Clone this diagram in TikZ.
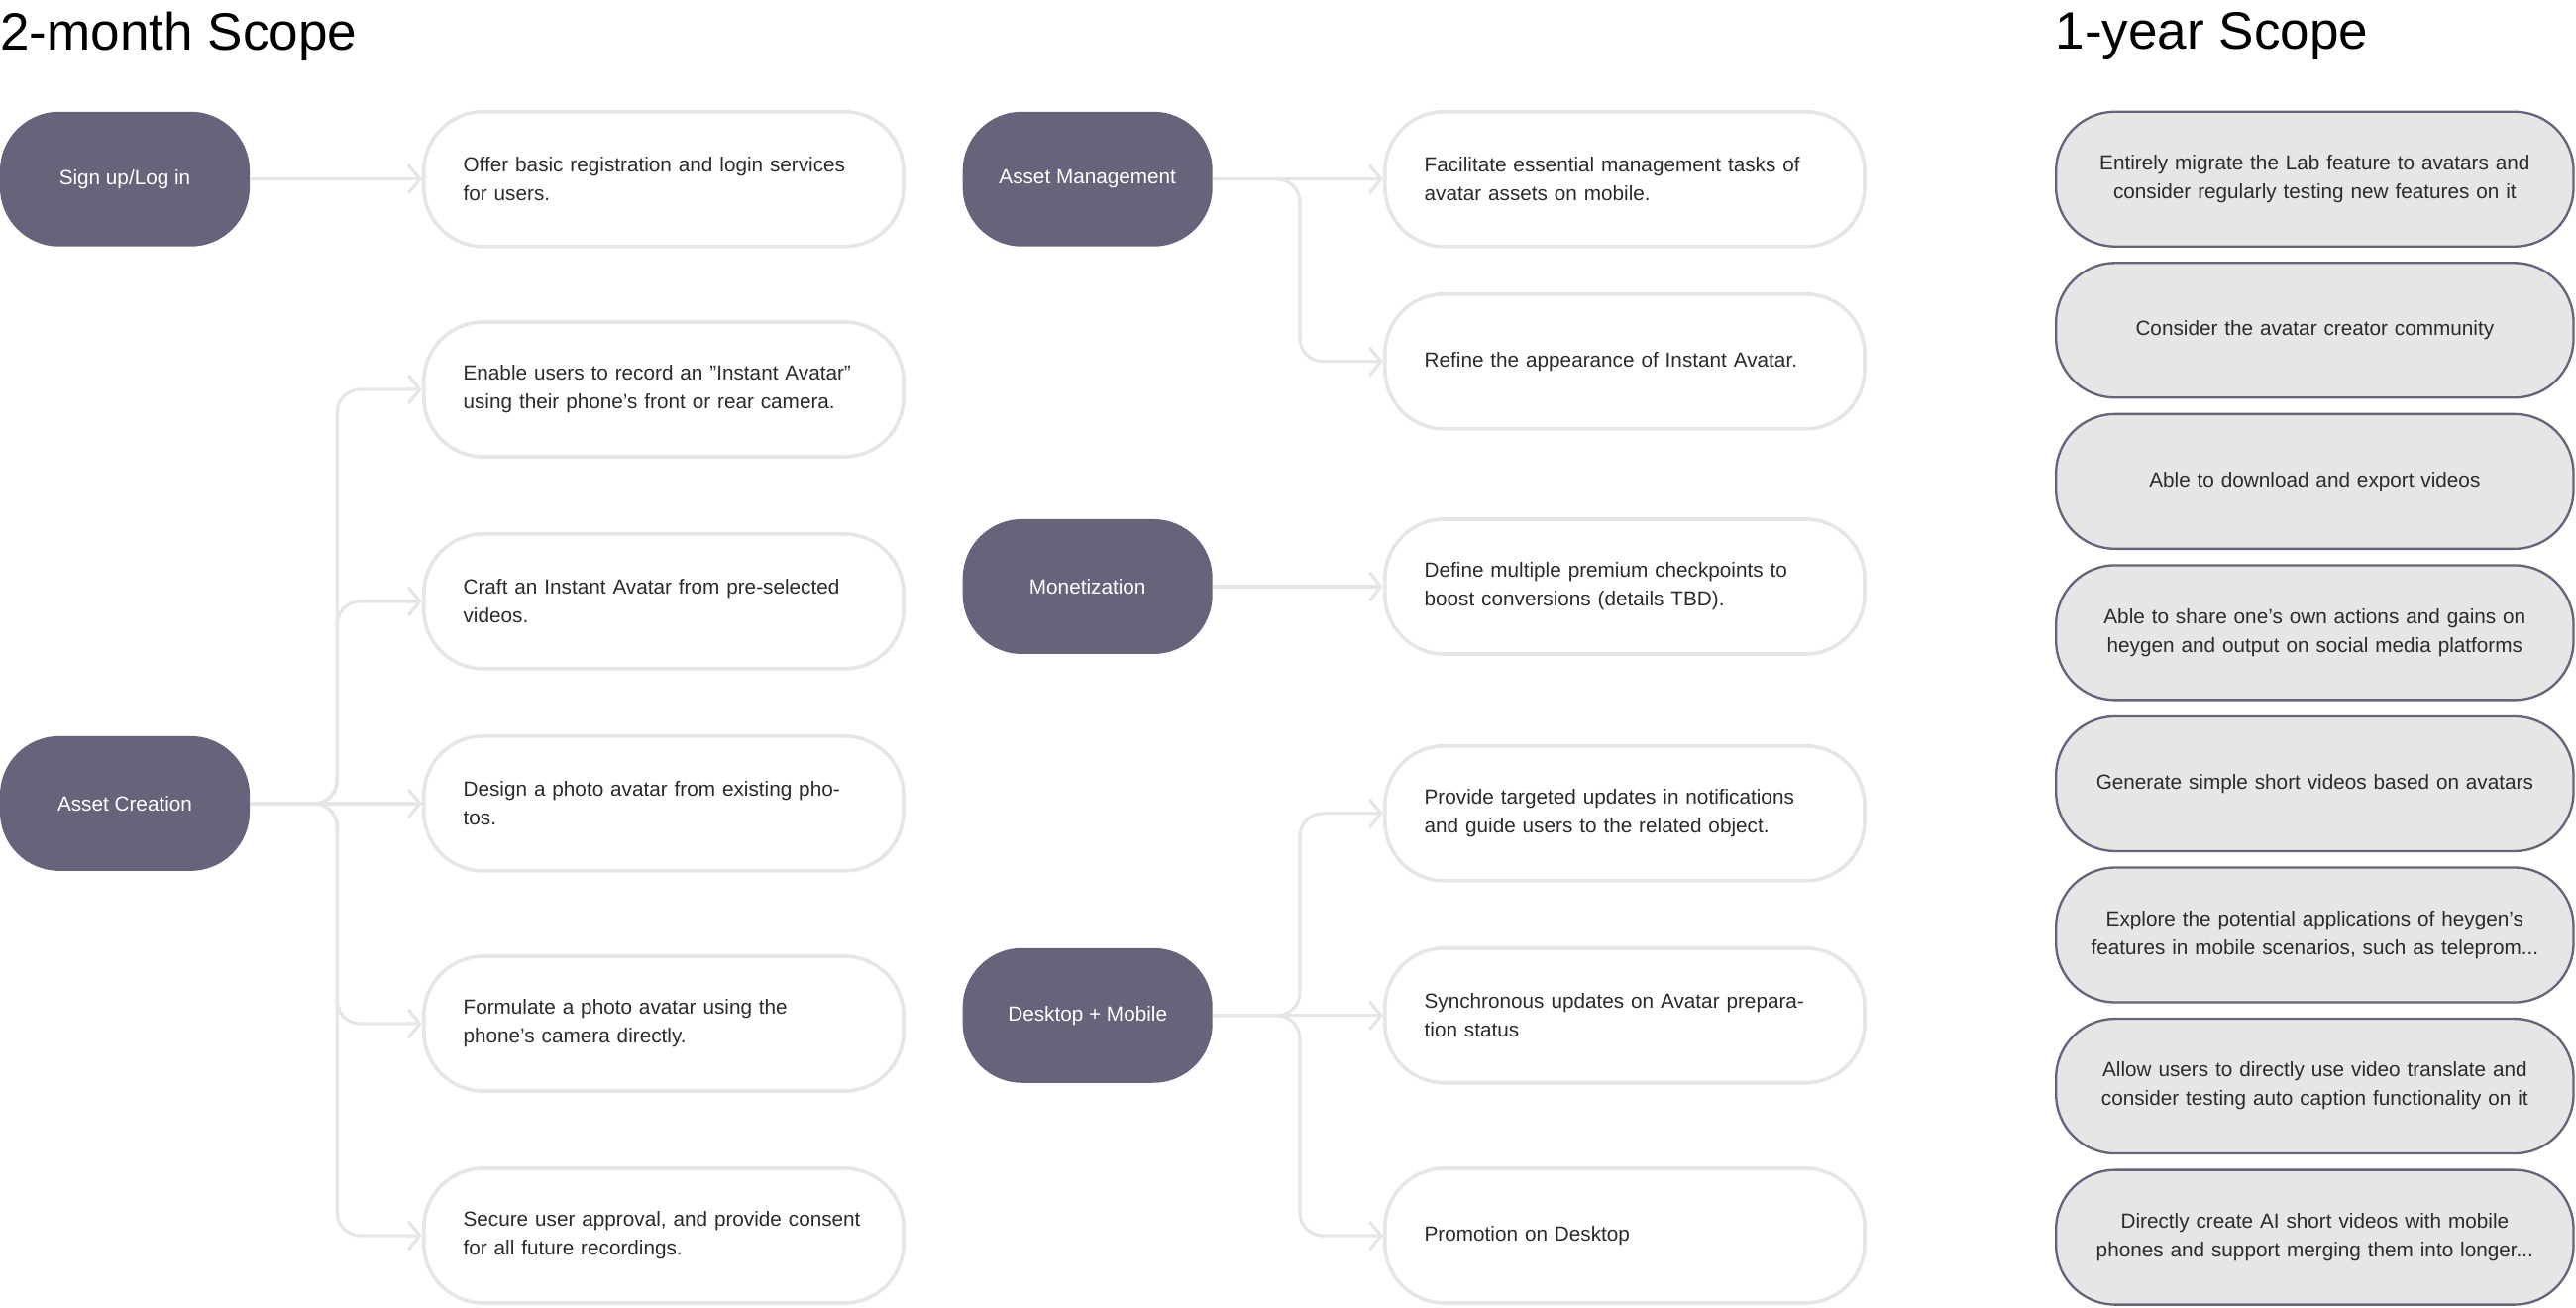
\documentclass[tikz,border=0pt]{standalone}
\usepackage{fontspec}
\setmainfont{Liberation Sans}
\usetikzlibrary{arrows.meta}
\definecolor{dark}{HTML}{67637B}
\definecolor{edge}{HTML}{E6E6E6}
\definecolor{txt}{HTML}{2B2B2B}
\definecolor{gfill}{HTML}{E6E6E6}
\begin{document}
\begin{tikzpicture}[x=1pt,y=-1pt,
  dk/.style={fill=dark,draw=none,rounded corners=36pt,minimum width=152pt,minimum height=82pt,text=white,font=\fontsize{12.5}{16}\selectfont,inner sep=0pt},
  wb/.style={draw=edge,line width=2.2pt,fill=white,rounded corners=36pt,minimum width=292pt,minimum height=82pt,text width=244pt,inner xsep=24pt,align=left,text=txt,font=\fontsize{12.5}{17.5}\selectfont},
  gb/.style={draw=dark,line width=1.4pt,fill=gfill,rounded corners=36pt,minimum width=315pt,minimum height=82pt,text width=290pt,align=center,text=txt,font=\fontsize{12.5}{17.5}\selectfont},
  conn/.style={draw=edge,line width=2pt,rounded corners=14pt,-{Straight Barb[length=7pt,width=17pt,line width=2pt]}},
  ttl/.style={anchor=west,font=\fontsize{32}{36}\selectfont,text=black,inner sep=0pt}]
\useasboundingbox (0,0) rectangle (1568,796);
\node[ttl] (t1) at (0,22) {2-month Scope};
\node[ttl] (t2) at (1251,22) {1-year Scope};
% left column
\node[dk] (su) at (76,109) {Sign up/Log in};
\node[dk] (ac) at (76,489) {Asset Creation};
\node[wb] (b1) at (404,109) {Offer basic registration and login services for users.};
\node[wb] (b2) at (404,237) {Enable users to record an "Instant Avatar" using their phone's front or rear camera.};
\node[wb] (b3) at (404,366) {Craft an Instant Avatar from pre-selected videos.};
\node[wb] (b4) at (404,489) {Design a photo avatar from existing photos.};
\node[wb] (b5) at (404,623) {Formulate a photo avatar using the phone's camera directly.};
\node[wb] (b6) at (404,752) {Secure user approval, and provide consent for all future recordings.};
% middle column
\node[dk] (am) at (662,109) {Asset Management};
\node[dk] (mo) at (662,357) {Monetization};
\node[dk] (dm) at (662,618) {Desktop + Mobile};
\node[wb] (m1) at (989,109) {Facilitate essential management tasks of avatar assets on mobile.};
\node[wb] (m2) at (989,220) {Refine the appearance of Instant Avatar.};
\node[wb] (m3) at (989,357) {Define multiple premium checkpoints to boost conversions (details TBD).};
\node[wb] (m4) at (989,495) {Provide targeted updates in notifications and guide users to the related object.};
\node[wb] (m5) at (989,618) {Synchronous updates on Avatar preparation status};
\node[wb] (m6) at (989,752) {Promotion on Desktop};
% right column
\node[gb] (g1) at (1409,109) {Entirely migrate the Lab feature to avatars and consider regularly testing new features on it};
\node[gb] (g2) at (1409,201) {Consider the avatar creator community};
\node[gb] (g3) at (1409,293) {Able to download and export videos};
\node[gb] (g4) at (1409,385) {Able to share one's own actions and gains on heygen and output on social media platforms};
\node[gb] (g5) at (1409,477) {Generate simple short videos based on avatars};
\node[gb] (g6) at (1409,569) {Explore the potential applications of heygen's features in mobile scenarios, such as teleprom...};
\node[gb] (g7) at (1409,661) {Allow users to directly use video translate and consider testing auto caption functionality on it};
\node[gb] (g8) at (1409,753) {Directly create AI short videos with mobile phones and support merging them into longer...};
% connectors
\draw[conn] (su.east) -- (b1.west);
\foreach \t in {b2,b3,b5,b6} \draw[conn] (ac.east) -- ++(53,0) |- (\t.west);
\draw[conn] (ac.east) -- (b4.west);
\draw[conn] (am.east) -- (m1.west);
\draw[conn] (am.east) -- ++(53,0) |- (m2.west);
\draw[conn] (mo.east) -- (m3.west);
\draw[conn] (dm.east) -- (m5.west);
\foreach \t in {m4,m6} \draw[conn] (dm.east) -- ++(53,0) |- (\t.west);
\end{tikzpicture}
\end{document}
